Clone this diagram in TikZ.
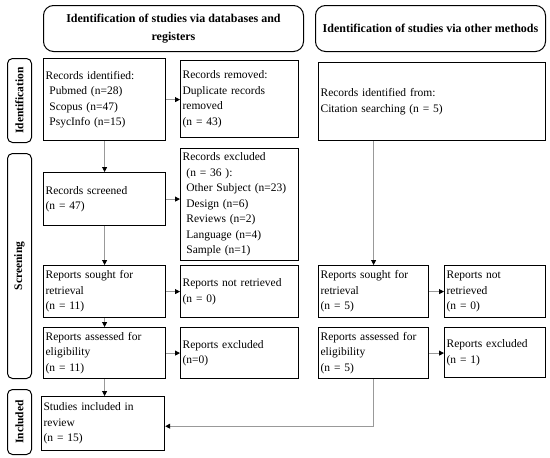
\documentclass[tikz,border=0pt]{standalone}
\usepackage{fontspec}
\setmainfont{Liberation Serif}
\usetikzlibrary{arrows.meta}
\begin{document}
\begin{tikzpicture}[x=1pt,y=-1pt,
  box/.style={draw=black, line width=1.2pt, align=left, inner sep=2pt, anchor=north west, font=\fontsize{11.5}{15.5}\selectfont},
  head/.style={draw=black, line width=1pt, rounded corners=10pt, align=center, anchor=north west, font=\bfseries\fontsize{12}{18}\selectfont},
  side/.style={draw=black, line width=1pt, rounded corners=5pt, anchor=north west},
  sidetext/.style={rotate=90, font=\bfseries\fontsize{11.5}{12}\selectfont},
  arr/.style={draw=black!40, line width=0.9pt, -{Triangle[length=5pt,width=5pt,fill=black,color=black]}}
]
\useasboundingbox (0,0) rectangle (550,458);
% headers
\node[head, minimum width=260pt, minimum height=46pt] (h1) at (43,5) {Identification of studies via databases and\\registers};
\node[head, minimum width=230pt, minimum height=46pt] (h2) at (315,5) {Identification of studies via other methods};
% side labels
\node[side, minimum width=24pt, minimum height=84pt] (s1) at (7,58) {};
\node[sidetext] (s1t) at (s1.center) {Identification};
\node[side, minimum width=24pt, minimum height=225pt] (s2) at (7,153) {};
\node[sidetext] (s2t) at (s2.center) {Screening};
\node[side, minimum width=24pt, minimum height=65pt] (s3) at (7,389) {};
\node[sidetext] (s3t) at (s3.center) {Included};
% left column
\node[box, minimum width=122pt, minimum height=82pt, text width=118pt] (idf) at (43,58) {Records identified:\\\ Pubmed (n=28)\\\ Scopus (n=47)\\\ PsycInfo (n=15)};
\node[box, minimum width=118pt, minimum height=77pt, text width=114pt] (rem) at (180,60) {Records removed:\\Duplicate records\\removed\\(n = 43)};
\node[box, minimum width=122pt, minimum height=53pt, text width=118pt] (scr) at (43,172) {Records screened\\(n = 47)};
\node[box, minimum width=118pt, minimum height=112pt, text width=114pt] (exc) at (180,148) {Records excluded\\\ (n = 36 ):\\\ Other Subject (n=23)\\\ Design (n=6)\\\ Reviews (n=2)\\\ Language (n=4)\\\ Sample (n=1)};
\node[box, minimum width=122pt, minimum height=52pt, text width=118pt] (sou) at (43,265) {Reports sought for\\retrieval\\(n = 11)};
\node[box, minimum width=118pt, minimum height=52pt, text width=114pt] (nr) at (180,265) {Reports not retrieved\\(n = 0)};
\node[box, minimum width=122pt, minimum height=51pt, text width=118pt] (ass) at (43,327) {Reports assessed for\\eligibility\\(n = 11)};
\node[box, minimum width=118pt, minimum height=51pt, text width=114pt] (rex) at (180,327) {Reports excluded\\(n=0)};
\node[box, minimum width=123pt, minimum height=54pt, text width=119pt] (inc) at (41,396) {Studies included in\\review\\(n = 15)};
% right column
\node[box, minimum width=227pt, minimum height=78pt, text width=223pt] (cit) at (318,62) {Records identified from:\\Citation searching (n = 5)};
\node[box, minimum width=110pt, minimum height=52pt, text width=106pt] (sou2) at (318,265) {Reports sought for\\retrieval\\(n = 5)};
\node[box, minimum width=101pt, minimum height=52pt, text width=97pt] (nr2) at (444,265) {Reports not\\retrieved\\(n = 0)};
\node[box, minimum width=110pt, minimum height=51pt, text width=106pt] (ass2) at (318,327) {Reports assessed for\\eligibility\\(n = 5)};
\node[box, minimum width=101pt, minimum height=50pt, text width=97pt] (rex2) at (444,327) {Reports excluded\\(n = 1)};
% arrows
\draw[arr] (idf.south) -- (scr.north);
\draw[arr] (scr.south) -- (sou.north);
\draw[arr] (sou.south) -- (ass.north);
\draw[arr] (ass.south) -- (ass.south |- inc.north);
\draw[arr] (idf.east) -- (idf.east -| rem.west);
\draw[arr] (scr.east) -- (scr.east -| exc.west);
\draw[arr] (sou.east) -- (sou.east -| nr.west);
\draw[arr] (ass.east) -- (ass.east -| rex.west);
\draw[arr] (cit.south -| sou2.north) -- (sou2.north);
\draw[arr] (sou2.east) -- (sou2.east -| nr2.west);
\draw[arr] (ass2.east) -- (ass2.east -| rex2.west);
\coordinate (bend) at ([yshift=-47pt]ass2.south);
\draw[arr] (ass2.south) -- (bend) -- (bend -| inc.east);
\end{tikzpicture}
\end{document}
